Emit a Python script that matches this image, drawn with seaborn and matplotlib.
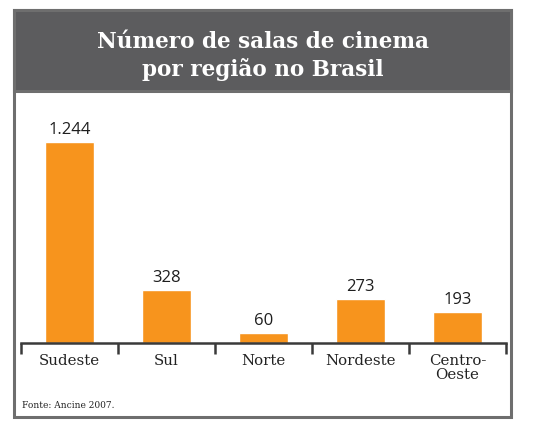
import matplotlib
matplotlib.use("Agg")
import matplotlib.pyplot as plt
from matplotlib.patches import Rectangle
import pandas as pd
import seaborn as sns

# Chart data
regioes = ["Sudeste", "Sul", "Norte", "Nordeste", "Centro-\nOeste"]
salas = [1244, 328, 60, 273, 193]
rotulos = ["1.244", "328", "60", "273", "193"]

titulo = "Número de salas de cinema\npor região no Brasil"
fonte = "Fonte: Ancine 2007."

df = pd.DataFrame({"regiao": regioes, "salas": salas})

sns.set_style("white")
plt.rcParams["font.family"] = ["DejaVu Serif"]

W, H = 534, 430
fig = plt.figure(figsize=(W / 100, H / 100), dpi=100)

# Outer frame and dark title bar (pixel coords -> figure fraction)
def px(x, y, w, h):
    return (x / W, 1 - (y + h) / H, w / W, h / H)

x0, y0, w0, h0 = px(14, 10, 497, 407)
fig.patches.append(Rectangle((x0, y0), w0, h0, transform=fig.transFigure,
                             facecolor="white", edgecolor="#6e6e6e", linewidth=2.2, zorder=0))
x1, y1, w1, h1 = px(14, 10, 497, 81)
fig.patches.append(Rectangle((x1, y1), w1, h1, transform=fig.transFigure,
                             facecolor="#5c5c5e", edgecolor="#6e6e6e", linewidth=2.2, zorder=1))

fig.text(263 / W, 1 - 56 / H, titulo, ha="center", va="center", color="white",
         fontsize=15.5, fontweight="bold", linespacing=1.3, zorder=3)

ax = fig.add_axes([21 / W, 87 / H, 485 / W, 243 / H])
ax.set_zorder(2)
ax.patch.set_alpha(0)
sns.barplot(data=df, x="regiao", y="salas", color="#f7941d", saturation=1,
            width=0.5, ax=ax)

ax.set_xlim(-0.5, 4.5)
ax.set_ylim(0, 1504)
ax.set_xlabel("")
ax.set_ylabel("")
ax.set_yticks([])
for s in ["top", "right", "left"]:
    ax.spines[s].set_visible(False)
ax.spines["bottom"].set_color("#3a3a3a")
ax.spines["bottom"].set_linewidth(1.8)

ax.set_xticks(range(len(regioes)))
ax.set_xticklabels(regioes, fontsize=10.8, color="#222222", linespacing=1.0, va="top")
ax.tick_params(axis="x", which="major", length=0, pad=8)
ax.set_xticks([i - 0.5 for i in range(len(regioes) + 1)], minor=True)
ax.tick_params(axis="x", which="minor", bottom=True, length=8, width=1.8,
               color="#3a3a3a", direction="out")

for i, (v, t) in enumerate(zip(salas, rotulos)):
    ax.text(i, v + 25, t, ha="center", va="bottom", fontsize=12,
            family=["Open Sans", "DejaVu Sans"], color="#1e1e1e")

fig.text(22 / W, 1 - 405 / H, fonte, ha="left", va="center", fontsize=6.5, color="#222222", zorder=3)

plt.savefig("out.png", dpi=100)
